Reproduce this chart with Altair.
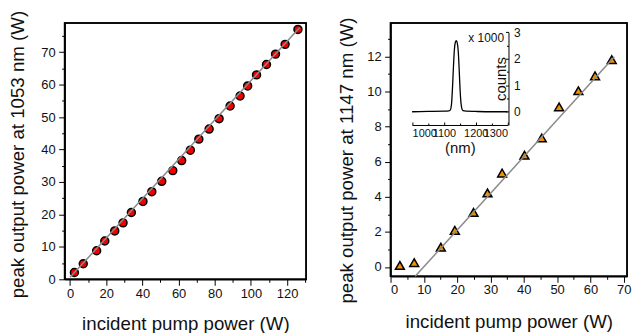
import altair as alt
import pandas as pd

# ---------------- data ----------------
# Left panel: 1053 nm
pump_1053 = [2.4, 7.3, 14.7, 19.2, 24.7, 29.3, 33.9, 40.3, 45.2, 50.7, 56.8, 61.7,
             66.5, 71.2, 76.9, 82.4, 88.5, 94.0, 98.2, 103.1, 108.6, 113.6, 118.9, 126.0]
out_1053 = [2.1, 4.8, 8.8, 11.8, 14.9, 17.4, 20.6, 24.0, 27.0, 30.2, 33.5, 36.6,
            39.8, 43.2, 46.3, 49.5, 53.4, 56.5, 59.6, 63.0, 66.2, 69.4, 72.4, 77.0]
fit_1053_x = [0.0, 127.0]
fit_1053_y = [0.6, 77.6]

# Right panel: 1147 nm
pump_1147 = [2.8, 7.1, 15.1, 19.3, 24.9, 29.1, 33.5, 40.2, 45.4, 50.6, 56.4, 61.4, 66.4]
out_1147 = [0.09, 0.25, 1.13, 2.09, 3.11, 4.22, 5.35, 6.37, 7.35, 9.12, 10.04, 10.89, 11.81]
fit_1147_x = [7.4, 67.2]
fit_1147_y = [-0.53, 11.97]

# Inset spectrum (counts in units of 1000)
spec_wl = [1000, 1050, 1100, 1115, 1120, 1124, 1127, 1130, 1133, 1136, 1139, 1142,
           1145, 1148, 1151, 1154, 1157, 1160, 1170, 1200, 1250, 1300]
spec_counts = [0.0, 0.01, 0.02, 0.03, 0.06, 0.3, 0.9, 1.7, 2.35, 2.62, 2.68, 2.6,
               2.3, 1.6, 0.8, 0.3, 0.1, 0.04, 0.02, 0.01, 0.0, 0.0]
annot_text = ["x 1000"]
annot_wl = [1289]
annot_counts = [2.79]

# tick positions
xl_major = [0, 20, 40, 60, 80, 100, 120]
xl_minor = [10, 30, 50, 70, 90, 110, 130]
yl_major = [0, 10, 20, 30, 40, 50, 60, 70]
yl_minor = [5, 15, 25, 35, 45, 55, 65, 75]
xr_major = [0, 10, 20, 30, 40, 50, 60, 70]
xr_minor = [5, 15, 25, 35, 45, 55, 65]
yr_major = [0, 2, 4, 6, 8, 10, 12]
yr_minor = [1, 3, 5, 7, 9, 11, 13]
xi_major = [1000, 1100, 1200, 1300]
xi_minor = [1050, 1150, 1250]
yi_major = [0, 1, 2, 3]
yi_minor = [0.5, 1.5, 2.5]

FONT = "Liberation Sans"
TFS = 18.8
WL, HL = 243, 258
WR, HR = 238, 255


def minor_axis(orient, values, size=3, offset=0):
    return alt.Axis(orient=orient, values=values, labels=False, tickSize=size,
                    domain=False, title=None, offset=offset)


def frame(w, h):
    return alt.Chart(pd.DataFrame({"f": [0]})).mark_rect(
        fill=None, fillOpacity=0, stroke="black", strokeWidth=1.5
    ).encode(x=alt.value(0), x2=alt.value(w), y=alt.value(0), y2=alt.value(h))


# ---------------- left panel ----------------
left_df = pd.DataFrame({"pump": pump_1053, "out": out_1053})
left_fit = pd.DataFrame({"pump": fit_1053_x, "out": fit_1053_y})
xl = alt.Scale(domain=[-3, 130.5], nice=False, zero=False)
yl = alt.Scale(domain=[0, 79], nice=False, zero=False)
ax_xl = alt.Axis(
    orient="bottom", values=xl_major, tickSize=6, labelPadding=2,
    titleX=WL / 2, titleY=50.5, titleBaseline="alphabetic", titleAlign="center")
ax_yl = alt.Axis(
    orient="left", values=yl_major, tickSize=6, labelPadding=3.5,
    titleX=-56, titleY=132, titleAngle=270, titleBaseline="top", titleAlign="center")

left_pts = alt.Chart(left_df).mark_point(
    shape="circle", fill="#f00000", stroke="black", strokeWidth=1.5,
    size=64, opacity=1, fillOpacity=1
).encode(
    x=alt.X("pump:Q", scale=xl, axis=ax_xl, title="incident pump power (W)"),
    y=alt.Y("out:Q", scale=yl, axis=ax_yl, title="peak output power at 1053 nm (W)"),
)
left_line = alt.Chart(left_fit).mark_line(color="#8a8a8a", strokeWidth=1.5).encode(
    x=alt.X("pump:Q", scale=xl, axis=minor_axis("bottom", xl_minor)),
    y=alt.Y("out:Q", scale=yl, axis=minor_axis("left", yl_minor)),
)
left = alt.layer(frame(WL, HL), left_pts, left_line).resolve_axis(
    x="independent", y="independent"
).properties(width=WL, height=HL)

# ---------------- right panel ----------------
right_df = pd.DataFrame({"pump": pump_1147, "out": out_1147})
right_fit = pd.DataFrame({"pump": fit_1147_x, "out": fit_1147_y})
xr = alt.Scale(domain=[0, 71], nice=False, zero=False)
yr = alt.Scale(domain=[-0.53, 13.9], nice=False, zero=False)
ax_xr = alt.Axis(
    orient="bottom", values=xr_major, tickSize=6, labelPadding=1,
    titleX=WR / 2, titleY=52, titleBaseline="alphabetic", titleAlign="center")
ax_yr = alt.Axis(
    orient="left", values=yr_major, tickSize=6, labelPadding=3.5,
    titleX=-53, titleY=138, titleAngle=270, titleBaseline="top", titleAlign="center")

right_pts = alt.Chart(right_df).mark_point(
    shape="triangle-up", fill="#f39200", stroke="black", strokeWidth=1.5,
    size=80, opacity=1, fillOpacity=1
).encode(
    x=alt.X("pump:Q", scale=xr, axis=ax_xr, title="incident pump power (W)"),
    y=alt.Y("out:Q", scale=yr, axis=ax_yr, title="peak output power at 1147 nm (W)"),
)
right_line = alt.Chart(right_fit).mark_line(color="#8a8a8a", strokeWidth=1.5).encode(
    x=alt.X("pump:Q", scale=xr, axis=minor_axis("bottom", xr_minor)),
    y=alt.Y("out:Q", scale=yr, axis=minor_axis("left", yr_minor)),
)
main_right = alt.layer(frame(WR, HR), right_pts, right_line).resolve_axis(
    x="independent", y="independent")

# inset
spec_df = pd.DataFrame({"wl": spec_wl, "counts": spec_counts})
annot_df = pd.DataFrame({"wl": annot_wl, "counts": annot_counts, "txt": annot_text})
xi = alt.Scale(domain=[1000, 1300], range=[21.7, 117.7], nice=False, zero=False)
yi = alt.Scale(domain=[-0.5, 3], range=[102.7, 9.3], nice=False, zero=False)
ax_xi = alt.Axis(
    orient="top", offset=-102.7, format="d", values=xi_major,
    tickSize=3, labelPadding=-6, labelBaseline="top",
    labelFontSize=11, domainWidth=1, titleFontSize=15,
    titleX=69.7, titleY=23, titleBaseline="middle", titleAlign="center", titleAngle=0)
ax_yi = alt.Axis(
    orient="left", offset=-118.7, format="d", values=yi_major,
    tickSize=3, labelPadding=-8, labelAlign="left",
    labelFontSize=12, domainWidth=1, titleFontSize=15,
    titleX=-3, titleY=56, titleAngle=270, titleBaseline="alphabetic", titleAlign="center")

spec_line = alt.Chart(spec_df).mark_line(color="black", strokeWidth=1.3, interpolate="monotone").encode(
    x=alt.X("wl:Q", scale=xi, axis=ax_xi, title="(nm)"),
    y=alt.Y("counts:Q", scale=yi, axis=ax_yi, title="counts"),
)
spec_text = alt.Chart(annot_df).mark_text(
    align="right", baseline="middle", fontSize=12, font=FONT, color="#111"
).encode(
    x=alt.X("wl:Q", scale=xi, axis=minor_axis("top", xi_minor, 2, -102.7)),
    y=alt.Y("counts:Q", scale=yi, axis=minor_axis("left", yi_minor, 2, -118.7)),
    text="txt:N",
)
inset = alt.layer(spec_line, spec_text).resolve_axis(x="independent", y="independent")

right = alt.layer(main_right, inset).resolve_scale(
    x="independent", y="independent"
).properties(width=WR, height=HR)

chart = alt.hconcat(left, right, spacing=29).properties(
    padding={"left": 0, "top": 0, "right": 0, "bottom": 0}
).configure_view(
    stroke="black", strokeWidth=1.5
).configure_axis(
    labelFont=FONT, titleFont=FONT, labelColor="#111", titleColor="#111",
    domainColor="black", tickColor="black", domainWidth=1.5, tickWidth=1,
    grid=False, labelFontSize=13, titleFontSize=TFS, titleFontWeight="normal",
    labelOverlap=False
)

chart.save("out.html", embed_options={"renderer": "svg", "actions": False})
